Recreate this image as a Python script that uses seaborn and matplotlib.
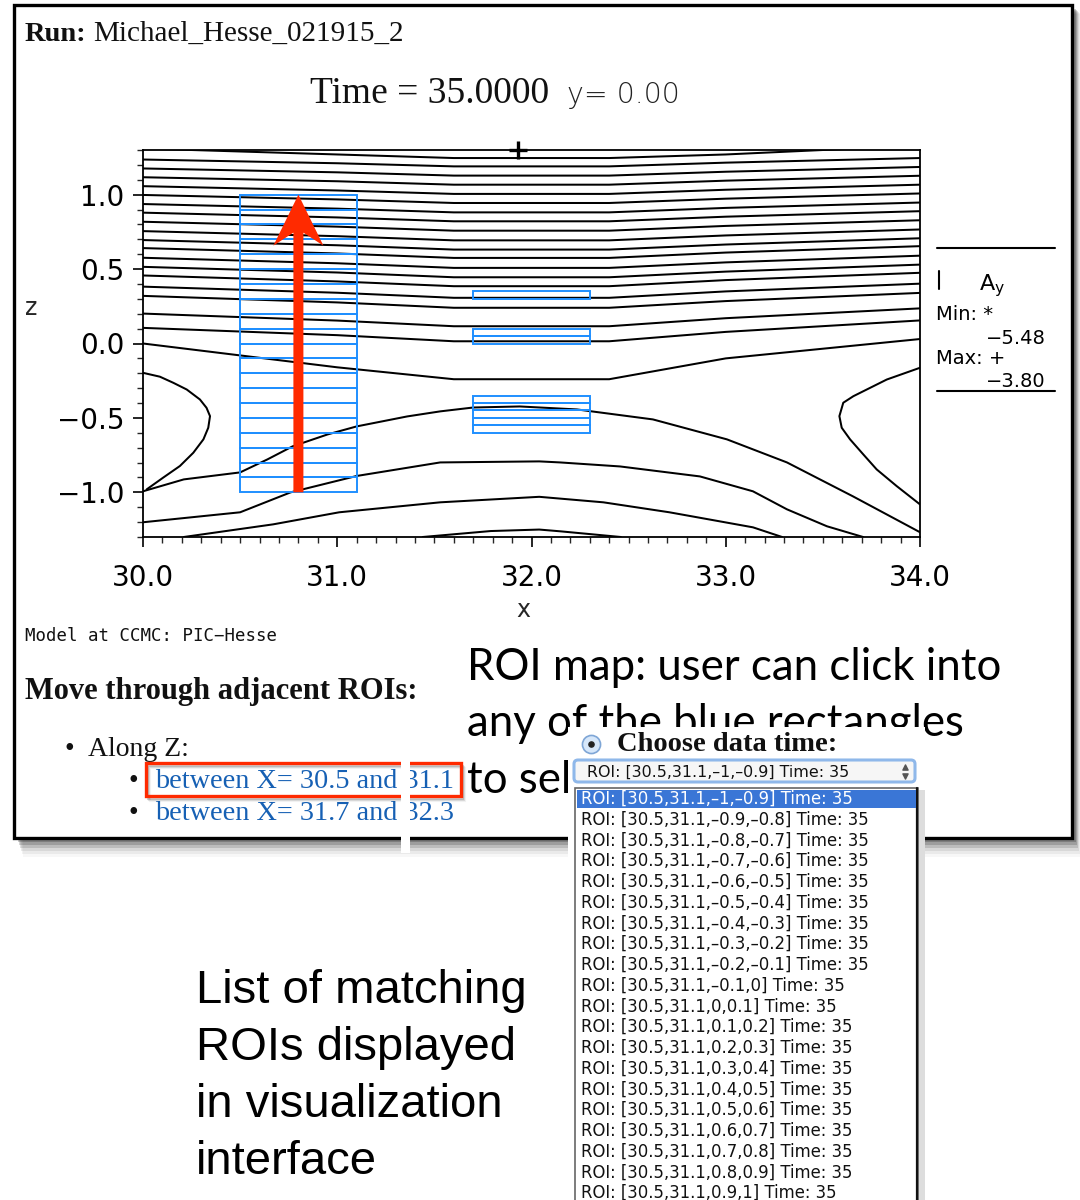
import numpy as np
import pandas as pd
import matplotlib
matplotlib.use("Agg")
import matplotlib.pyplot as plt
import seaborn as sns
from matplotlib.patches import Rectangle, FancyBboxPatch, Polygon
import matplotlib.transforms as mtransforms
from matplotlib.ticker import MultipleLocator

# ---------------------------------------------------------------- data
RUN_NAME = "Michael_Hesse_021915_2"
TIME_LABEL = "Time = 35.0000"
Y_LABEL = "y= 0.00"
X_RANGE = (30.0, 34.0)
Z_RANGE = (-1.3, 1.3)
X_TICKS = [30.0, 31.0, 32.0, 33.0, 34.0]
Z_TICKS = [-1.0, -0.5, 0.0, 0.5, 1.0]
AY_MIN = -5.48
AY_MAX = -3.80
MAX_POS = (31.93, 1.30)

# upper contour family: z read at x = 30, 31, 31.6, 32.4, 33, 34
UPPER_X = [30.0, 31.0, 31.6, 32.4, 33.0, 34.0]
UPPER_Z = [
    [0.000, -0.160, -0.240, -0.240, -0.100, 0.030],
    [0.105, 0.056, 0.015, 0.015, 0.078, 0.155],
    [0.201, 0.154, 0.116, 0.116, 0.170, 0.236],
    [0.320, 0.276, 0.240, 0.240, 0.285, 0.340],
    [0.382, 0.341, 0.307, 0.307, 0.350, 0.402],
    [0.457, 0.417, 0.385, 0.385, 0.426, 0.475],
    [0.515, 0.477, 0.445, 0.445, 0.483, 0.530],
    [0.576, 0.539, 0.508, 0.508, 0.545, 0.590],
    [0.641, 0.605, 0.575, 0.575, 0.611, 0.654],
    [0.695, 0.660, 0.631, 0.631, 0.665, 0.707],
    [0.755, 0.721, 0.693, 0.693, 0.726, 0.766],
    [0.818, 0.785, 0.758, 0.758, 0.790, 0.828],
    [0.879, 0.847, 0.821, 0.821, 0.852, 0.889],
    [0.937, 0.906, 0.881, 0.881, 0.911, 0.947],
    [0.998, 0.968, 0.944, 0.944, 0.973, 1.008],
    [1.057, 1.028, 1.005, 1.005, 1.033, 1.067],
    [1.117, 1.090, 1.067, 1.067, 1.094, 1.127],
    [1.176, 1.150, 1.128, 1.128, 1.154, 1.186],
    [1.236, 1.211, 1.190, 1.190, 1.215, 1.246],
    [1.310, 1.270, 1.246, 1.246, 1.270, 1.330],
]

LEFT_C_X = [30.0, 30.087, 30.156, 30.225, 30.293, 30.327, 30.345, 30.336, 30.311, 30.259, 30.190, 30.104, 30.019]
LEFT_C_Z = [-0.197, -0.223, -0.264, -0.309, -0.376, -0.432, -0.488, -0.566, -0.644, -0.734, -0.823, -0.901, -0.980]
RIGHT_C_X = [34.0, 33.829, 33.657, 33.605, 33.585, 33.597, 33.640, 33.708, 33.777, 33.880, 34.0]
RIGHT_C_Z = [-0.163, -0.242, -0.354, -0.398, -0.488, -0.566, -0.644, -0.745, -0.846, -0.958, -1.081]
ARCH1_X = [30.0, 30.21, 30.5, 30.64, 30.77, 30.95, 31.1, 31.36, 31.53, 31.70,
           31.94, 32.234, 32.625, 33.006, 33.315, 33.655, 34.0]
ARCH1_Z = [-0.993, -0.913, -0.866, -0.779, -0.691, -0.611, -0.557, -0.490, -0.456, -0.430,
           -0.423, -0.443, -0.510, -0.644, -0.799, -1.027, -1.268]
ARCH2_X = [30.0, 30.5, 30.76, 31.1, 31.53, 32.04, 32.147, 32.456, 32.867, 33.14, 33.315, 33.521, 33.707]
ARCH2_Z = [-1.201, -1.134, -1.0, -0.89, -0.799, -0.792, -0.799, -0.826, -0.893, -0.993, -1.114, -1.228, -1.30]
ARCH3_X = [30.21, 30.67, 31.01, 31.53, 32.04, 32.37, 32.71, 32.97, 33.14, 33.29]
ARCH3_Z = [-1.30, -1.215, -1.134, -1.067, -1.030, -1.067, -1.134, -1.195, -1.235, -1.30]
ARCH4_X = [31.44, 31.79, 32.04, 32.15, 32.46]
ARCH4_Z = [-1.30, -1.26, -1.250, -1.262, -1.30]

# ROI cells
ROI_A_X = (30.5, 31.1)
ROI_A_LO = [-1.0, -0.9, -0.8, -0.7, -0.6, -0.5, -0.4, -0.3, -0.2, -0.1,
            0.0, 0.1, 0.2, 0.3, 0.4, 0.5, 0.6, 0.7, 0.8, 0.9]
ROI_A_HI = [-0.9, -0.8, -0.7, -0.6, -0.5, -0.4, -0.3, -0.2, -0.1, 0.0,
            0.1, 0.2, 0.3, 0.4, 0.5, 0.6, 0.7, 0.8, 0.9, 1.0]
ROI_B_X = (31.7, 32.3)
ROI_B_LO = [0.30, 0.00, 0.05, -0.60, -0.55, -0.50, -0.45, -0.40]
ROI_B_HI = [0.35, 0.05, 0.10, -0.55, -0.50, -0.45, -0.40, -0.35]
ROI_TIME = 35
ARROW_X = 30.8
ARROW_Z = (-1.0, 1.0)

LINKS = ["between X= 30.5 and 31.1", "between X= 31.7 and 32.3"]
NOTE_LINES = ["ROI map: user can click into", "any of the blue rectangles", "to sel"]
CAPTION_LINES = ["List of matching", "ROIs displayed", "in visualization", "interface"]

# ---------------------------------------------------------------- style
sns.set_theme(style="white")
plt.rcParams["font.family"] = ["DejaVu Sans"]
plt.rcParams["axes.unicode_minus"] = True

SERIF = ["Liberation Serif", "DejaVu Serif"]
IDL = ["DejaVu Sans"]
NOTE = ["Lato", "DejaVu Sans"]
ARIAL = ["Liberation Sans", "DejaVu Sans"]
BLUE_ROI = "#1f8fff"
RED = "#ff2a00"
LINK = "#1660b4"

DPI = 100
fig = plt.figure(figsize=(10.8, 12), dpi=DPI)
fig.patch.set_facecolor("white")

bg = fig.add_axes([0, 0, 1, 1], zorder=0)
bg.set_xlim(0, 1080)
bg.set_ylim(1200, 0)
bg.axis("off")

# screenshot frame + shadow
for i, a in enumerate([0.20, 0.16, 0.12, 0.08, 0.05, 0.03]):
    bg.add_patch(Rectangle((18 + i, 9 + i), 1058, 833 + 2 * i, fc="black", alpha=a, ec="none", zorder=0.5))
bg.add_patch(Rectangle((14, 5), 1058, 833, fc="white", ec="black", lw=2.4, zorder=1))

# header texts
bg.text(25, 41, "Run:", fontfamily=SERIF, fontsize=20.5, fontweight="bold", color="#111", zorder=3)
bg.text(93, 41, RUN_NAME, fontfamily=SERIF, fontsize=21, color="#111", zorder=3)
bg.text(310, 103, TIME_LABEL, fontfamily=SERIF, fontsize=27, color="#111", zorder=3)
bg.text(567, 103, Y_LABEL, fontfamily=IDL, fontsize=20.5, color="#222", fontweight="light", zorder=3)

# legend block
bg.plot([937, 1055], [248, 248], color="black", lw=1.5, zorder=3)
bg.plot([939, 939], [271, 289], color="black", lw=1.5, zorder=3)
bg.text(979, 290, r"A$_\mathregular{y}$", fontfamily=IDL, fontsize=16, color="black", zorder=3)
bg.text(936, 320, "Min: *", fontfamily=IDL, fontsize=14, color="black", zorder=3)
bg.text(1046, 344, f"{AY_MIN:.2f}".replace("-", "\u2212"), fontfamily=IDL, fontsize=14,
        ha="right", color="black", zorder=3)
bg.text(936, 364, "Max: +", fontfamily=IDL, fontsize=14, color="black", zorder=3)
bg.text(1046, 387, f"{AY_MAX:.2f}".replace("-", "\u2212"), fontfamily=IDL, fontsize=14,
        ha="right", color="black", zorder=3)
bg.plot([937, 1055], [391, 391], color="black", lw=1.5, zorder=3)

bg.text(31, 308, "z", fontfamily=IDL, fontsize=17, ha="center", va="center", zorder=3)
bg.text(523, 610, "x", fontfamily=IDL, fontsize=17, ha="center", va="center", zorder=3)
bg.text(25, 641, "Model at CCMC: PIC\u2212Hesse", fontfamily=["DejaVu Sans Mono"], fontsize=12.5,
        color="#111", zorder=3)

# navigation texts
bg.text(25, 699, "Move through adjacent ROIs:", fontfamily=SERIF, fontsize=22, fontweight="bold",
        color="#111", zorder=3)
bg.text(64, 756, "\u2022", fontfamily=SERIF, fontsize=20, color="#111", zorder=3)
bg.text(88, 756, "Along Z:", fontfamily=SERIF, fontsize=20, color="#111", zorder=3)
for k, lab in enumerate(LINKS):
    yb = 788 + 32 * k
    bg.text(129, yb, "\u2022", fontfamily=SERIF, fontsize=20, color="#111", zorder=3)
    bg.text(155, yb, lab, fontfamily=SERIF, fontsize=20.3, color=LINK, zorder=3)
for i, a in enumerate([0.18, 0.10, 0.05]):
    bg.add_patch(Rectangle((148 + i, 766 + i), 315, 33, fc="none", ec="black", alpha=a, lw=1.5, zorder=3.9))
bg.add_patch(Rectangle((146, 763), 315, 33, fc="none", ec=RED, lw=2.4, zorder=4))
bg.add_patch(Rectangle((401, 758), 9, 95, fc="white", ec="none", zorder=4.5))

# overlay notes
for k, line in enumerate(NOTE_LINES):
    bg.text(467, 680 + 56.5 * k, line, fontfamily=NOTE, fontsize=31.5, color="black", zorder=4)

# dropdown panel
bg.add_patch(Rectangle((568, 727), 357, 480, fc="white", ec="none", zorder=5))
bg.add_patch(Rectangle((918, 790), 7, 420, fc="#dddddd", ec="none", zorder=5.2))
bg.scatter([591], [744], s=170, c="#d6e7fa", edgecolors="#7fa6d6", linewidths=1.2, zorder=6)
bg.scatter([591], [744], s=14, c="#222", zorder=6.5)
bg.text(617, 751, "Choose data time:", fontfamily=SERIF, fontsize=20.5, fontweight="bold",
        color="#111", zorder=6)


def roi_text(lo, hi):
    f = lambda v: f"{v:g}".replace("-", "\u2013")
    return f"ROI: [{ROI_A_X[0]:g},{ROI_A_X[1]:g},{f(lo)},{f(hi)}] Time: {ROI_TIME}"


bg.add_patch(FancyBboxPatch((574, 760), 341, 22, boxstyle="round,pad=0,rounding_size=4",
                            fc="#f6f6f6", ec="#8fb8ea", lw=2.2, zorder=6))
bg.text(587, 772, roi_text(ROI_A_LO[0], ROI_A_HI[0]), fontfamily=IDL, fontsize=11.4,
        va="center", color="#111", zorder=7)
bg.scatter([905], [767], marker="^", s=14, c="#555", zorder=7)
bg.scatter([905], [776], marker="v", s=14, c="#555", zorder=7.1)

bg.add_patch(Rectangle((575, 788), 343, 420, fc="white", ec="#666", lw=1.2, zorder=6))
bg.plot([917, 917], [788, 1200], color="#111", lw=1.6, zorder=6.3)
bg.add_patch(Rectangle((577, 790), 339, 18, fc="#3a76d6", ec="none", zorder=6.5))
for k, (lo, hi) in enumerate(zip(ROI_A_LO, ROI_A_HI)):
    yc = 799 + 20.74 * k
    bg.text(581, yc, roi_text(lo, hi), fontfamily=IDL, fontsize=11.9, va="center",
            color="white" if k == 0 else "#111", zorder=7)

# caption
for k, line in enumerate(CAPTION_LINES):
    bg.text(196, 1003 + 57 * k, line, fontfamily=ARIAL, fontsize=34, color="black", zorder=3)

# ---------------------------------------------------------------- contour chart
ax = fig.add_axes([143 / 1080, 1 - 537 / 1200, 777 / 1080, 387 / 1200], zorder=2)
ax.set_facecolor("none")

rows = []
lid = 0
for zs in UPPER_Z:
    for x, z in zip(UPPER_X, zs):
        rows.append((lid, x, z))
    lid += 1
for xs, zs in [(LEFT_C_X, LEFT_C_Z), (RIGHT_C_X, RIGHT_C_Z), (ARCH1_X, ARCH1_Z),
               (ARCH2_X, ARCH2_Z), (ARCH3_X, ARCH3_Z), (ARCH4_X, ARCH4_Z)]:
    for x, z in zip(xs, zs):
        rows.append((lid, x, z))
    lid += 1
df = pd.DataFrame(rows, columns=["line", "x", "z"])
sns.lineplot(data=df, x="x", y="z", units="line", estimator=None, sort=False,
             color="black", linewidth=1.45, legend=False, ax=ax)

for lo, hi in zip(ROI_A_LO, ROI_A_HI):
    ax.add_patch(Rectangle((ROI_A_X[0], lo), ROI_A_X[1] - ROI_A_X[0], hi - lo,
                           fill=False, ec=BLUE_ROI, lw=1.4, zorder=3))
for lo, hi in zip(ROI_B_LO, ROI_B_HI):
    ax.add_patch(Rectangle((ROI_B_X[0], lo), ROI_B_X[1] - ROI_B_X[0], hi - lo,
                           fill=False, ec=BLUE_ROI, lw=1.4, zorder=3))

ax.plot([MAX_POS[0]], [MAX_POS[1]], marker="+", ms=13, mew=2.4, color="black",
        clip_on=False, zorder=5)

ax.set_xlim(*X_RANGE)
ax.set_ylim(*Z_RANGE)
ax.set_xticks(X_TICKS)
ax.set_yticks(Z_TICKS)
ax.set_xticklabels([f"{v:.1f}" for v in X_TICKS])
ax.set_yticklabels([f"{v:.1f}".replace("-", "\u2212") for v in Z_TICKS])
ax.xaxis.set_minor_locator(MultipleLocator(0.1))
ax.yaxis.set_minor_locator(MultipleLocator(0.1))
ax.tick_params(axis="both", which="major", direction="out", length=7.5, width=1.2,
               labelsize=20, colors="black", bottom=True, left=True)
ax.tick_params(axis="x", which="major", pad=12)
ax.tick_params(axis="y", which="major", pad=6)
ax.tick_params(axis="both", which="minor", direction="out", length=4, width=1.0,
               bottom=True, left=True)
for lab in ax.get_xticklabels() + ax.get_yticklabels():
    lab.set_fontfamily(IDL)
for s in ax.spines.values():
    s.set_color("black")
    s.set_linewidth(1.3)
ax.set_xlabel("")
ax.set_ylabel("")

# red arrow (shaft + swept-back head), anchored at data tip
tip = ax.transData.transform((ARROW_X, ARROW_Z[1]))
tail = ax.transData.transform((ARROW_X, ARROW_Z[0]))
Lpx = tip[1] - tail[1]
verts = np.array([(0, 0), (25, -51), (5, -38), (5, -Lpx), (-5, -Lpx), (-5, -38), (-25, -51)]) / DPI
trans = fig.dpi_scale_trans + mtransforms.ScaledTranslation(ARROW_X, ARROW_Z[1], ax.transData)
ax.add_patch(Polygon(verts, closed=True, fc=RED, ec="none", transform=trans, zorder=6, clip_on=False))

fig.savefig("out.png", dpi=DPI, facecolor="white")
